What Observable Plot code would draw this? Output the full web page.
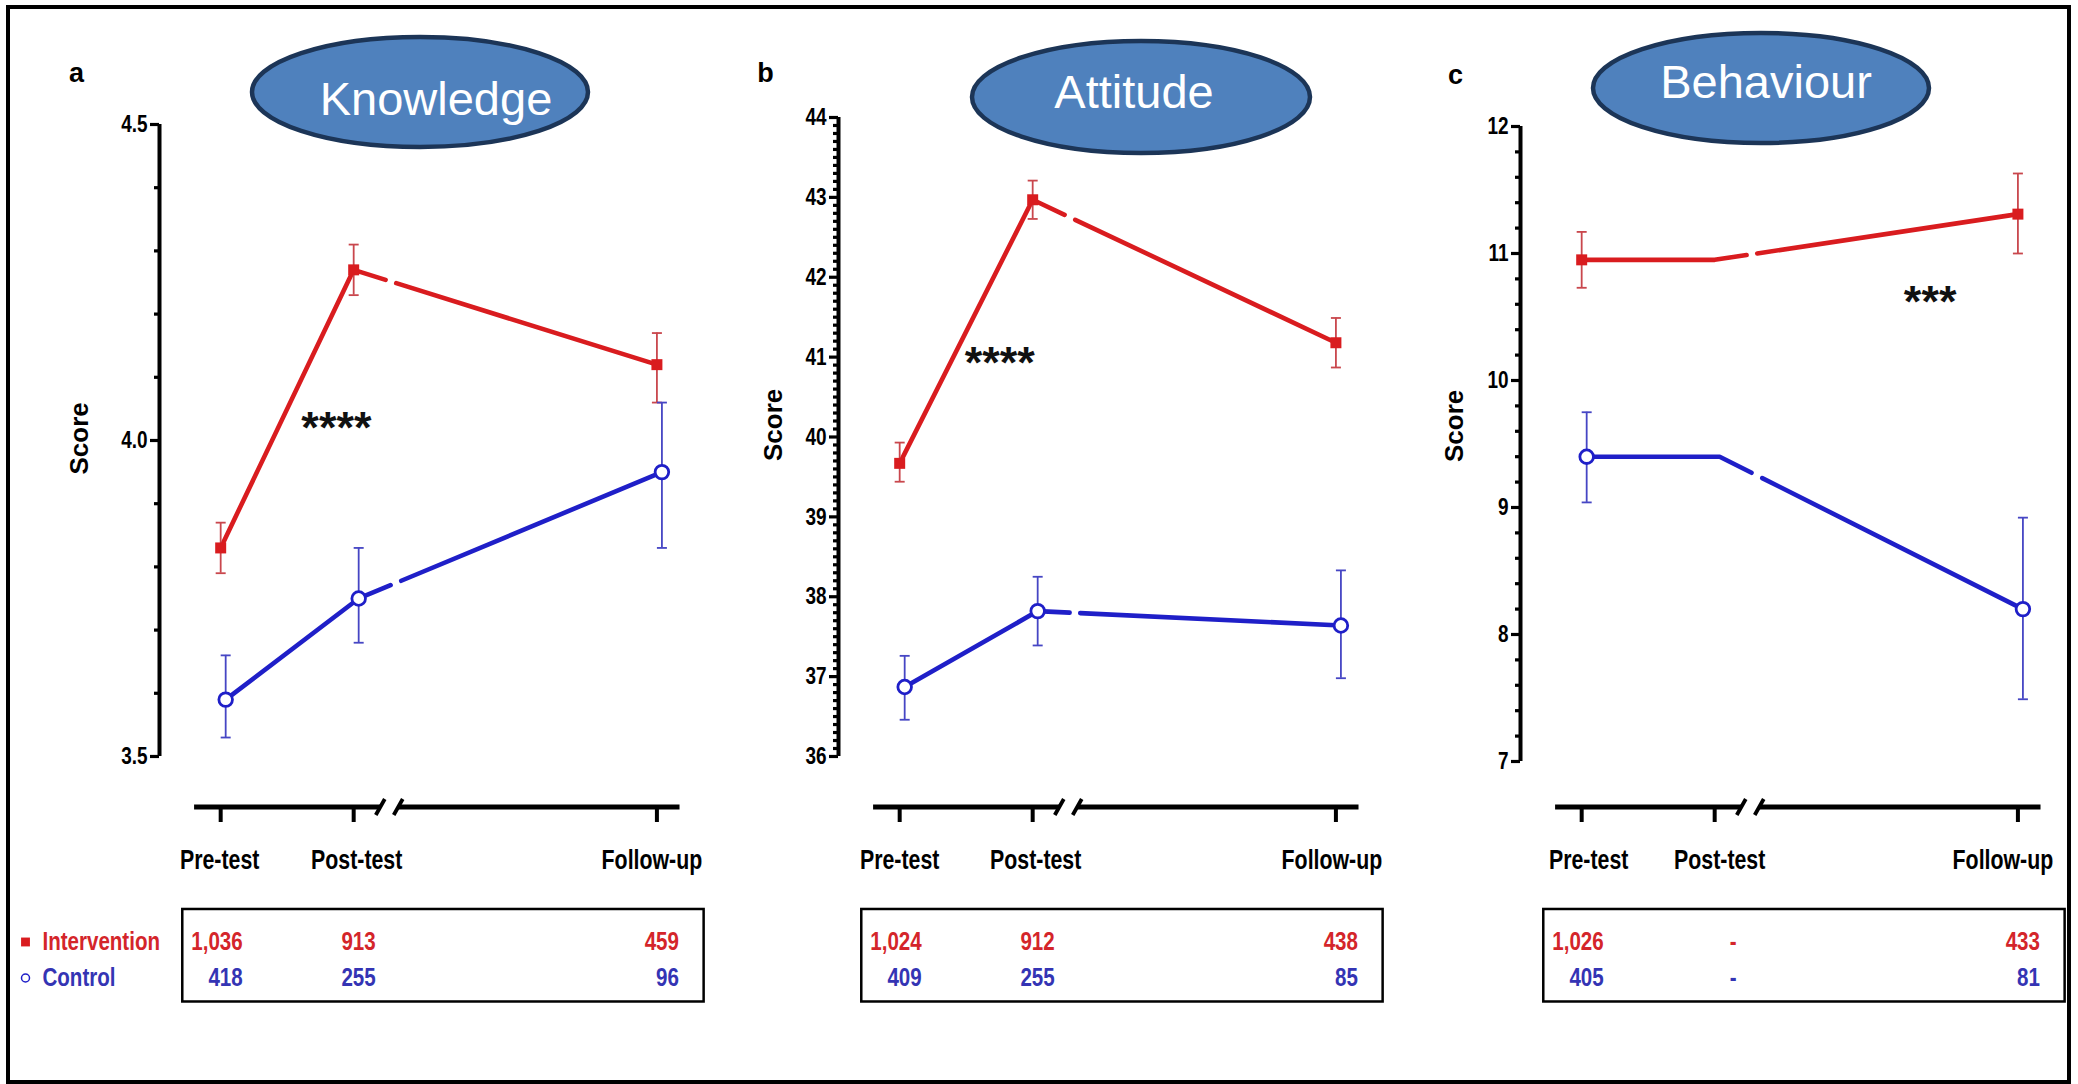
<!DOCTYPE html>
<html><head><meta charset="utf-8">
<script src="https://cdn.jsdelivr.net/npm/d3@7"></script>
<script src="https://cdn.jsdelivr.net/npm/@observablehq/plot@0.6"></script>
<style>
html,body{margin:0;padding:0;background:#fff;}
body{width:2078px;height:1084px;position:relative;overflow:hidden;}
#frame{position:absolute;left:6px;top:5px;width:2057px;height:1071px;border:4px solid #000;}
.panel{position:absolute;}
.panel svg{max-width:none !important;display:block;}
#titles{position:absolute;left:0;top:0;}
</style></head><body>
<div id="frame"></div>
<script>
// ---------- data ----------
const phases = ["Pre-test", "Post-test", "Follow-up"];
const groups = ["Intervention", "Control"];

const knowledgeIntMean = [3.83, 4.27, 4.12];
const knowledgeIntLow  = [3.79, 4.23, 4.06];
const knowledgeIntHigh = [3.87, 4.31, 4.17];
const knowledgeCtlMean = [3.59, 3.75, 3.95];
const knowledgeCtlLow  = [3.53, 3.68, 3.83];
const knowledgeCtlHigh = [3.66, 3.83, 4.06];
const knowledgeIntN = ["1,036", "913", "459"];
const knowledgeCtlN = ["418", "255", "96"];
const knowledgeTicks = [3.5, 4.0, 4.5];

const attitudeIntMean = [39.67, 42.97, 41.18];
const attitudeIntLow  = [39.44, 42.73, 40.87];
const attitudeIntHigh = [39.93, 43.21, 41.49];
const attitudeCtlMean = [36.87, 37.82, 37.64];
const attitudeCtlLow  = [36.46, 37.39, 36.98];
const attitudeCtlHigh = [37.26, 38.25, 38.33];
const attitudeIntN = ["1,024", "912", "438"];
const attitudeCtlN = ["409", "255", "85"];
const attitudeTicks = [36, 37, 38, 39, 40, 41, 42, 43, 44];

const behaviourIntMean = [10.95, 10.95, 11.31];
const behaviourIntLow  = [10.73, null, 11.00];
const behaviourIntHigh = [11.17, null, 11.63];
const behaviourCtlMean = [9.40, 9.40, 8.20];
const behaviourCtlLow  = [9.04, null, 7.49];
const behaviourCtlHigh = [9.75, null, 8.92];
const behaviourIntN = ["1,026", "-", "433"];
const behaviourCtlN = ["405", "-", "81"];
const behaviourTicks = [7, 8, 9, 10, 11, 12];

const panelTitles = ["Knowledge", "Attitude", "Behaviour"];
const panelLetters = ["a", "b", "c"];
const significance = ["****", "****", "***"];

// ---------- layout & style ----------
const NARROW = '"Liberation Sans", Arial, sans-serif';          // drawn condensed
const WIDE = '"Liberation Sans", "Arial", Helvetica, sans-serif';
const CONDENSE = 0.79;
const RED = "#d91c1f", BLUE = "#1f1fc8";
const RED_ERR = "#c9474d", BLUE_ERR = "#4646c4";
const RED_TXT = "#d4252a", BLUE_TXT = "#3434b4";
const PHASE_POS = [0, 1, 3.28];
const X_MIN = -0.46, X_MAX = 3.65, UNIT = 133;
const GAP_A = 1.24, GAP_B = 1.32;        // break in connecting lines
const BREAK_A = 1.20, BREAK_B = 1.335;   // axis break slashes
const AX_L = -0.20, AX_R = 3.45;          // axis strip extent
const BOX_L = -0.285, BOX_R = 3.635;      // n table box
const AXIS_LINE_Y = 806.5, LABEL_Y = 860, BOX_TOP = 909, BOX_BOTTOM = 1001.5;
const ROW_Y = {Intervention: 941.5, Control: 977.5};
const MT = 72, MB = 258, MR = 10;

const panels = [
  {domain: [3.5, 4.5], majors: knowledgeTicks, minorStep: 0.1, fmt: d3.format(".1f"),
   series: {Intervention: {mean: knowledgeIntMean, low: knowledgeIntLow, high: knowledgeIntHigh, n: knowledgeIntN},
            Control: {mean: knowledgeCtlMean, low: knowledgeCtlLow, high: knowledgeCtlHigh, n: knowledgeCtlN}},
   axisX: 159, top: 124, bottom: 756, mL: 152, legend: true, labelDx: [-1, 3, -5],
   star: [0.87, 4.038], letterOff: [-83, -51], scoreOff: [-80, 34],
   ell: {cx: 420, cy: 92, rx: 170, ry: 57, tx: 436, ty: 115}},
  {domain: [36, 44], majors: attitudeTicks, minorStep: 0.1, fmt: d3.format("d"),
   series: {Intervention: {mean: attitudeIntMean, low: attitudeIntLow, high: attitudeIntHigh, n: attitudeIntN},
            Control: {mean: attitudeCtlMean, low: attitudeCtlLow, high: attitudeCtlHigh, n: attitudeCtlN}},
   axisX: 838, top: 117, bottom: 756, mL: 100, legend: false, labelDx: [0, 3, -4],
   star: [0.752, 41.07], letterOff: [-73, -44], scoreOff: [-65, 24],
   ell: {cx: 1141, cy: 97, rx: 171, ry: 58, tx: 1134, ty: 108}},
  {domain: [7, 12], majors: behaviourTicks, minorStep: 0.2, fmt: d3.format("d"),
   series: {Intervention: {mean: behaviourIntMean, low: behaviourIntLow, high: behaviourIntHigh, n: behaviourIntN},
            Control: {mean: behaviourCtlMean, low: behaviourCtlLow, high: behaviourCtlHigh, n: behaviourCtlN}},
   axisX: 1520, top: 126, bottom: 761, mL: 100, legend: false, labelDx: [7, 5, -15],
   star: [2.62, 10.71], letterOff: [-65, -51], scoreOff: [-66, 18],
   ell: {cx: 1761, cy: 88, rx: 170, ry: 57, tx: 1766, ty: 98}}
];

// custom symbols
const capSym = {draw(ctx) { ctx.moveTo(-5, 0); ctx.lineTo(5, 0); }};
const slashSym = {draw(ctx) { ctx.moveTo(-4.5, 8); ctx.lineTo(4.5, -8); }};
const tickSym = {draw(ctx) { ctx.moveTo(0, 0); ctx.lineTo(0, 15); }};

function lineData(mean) {
  const [p0, p1, p2] = PHASE_POS;
  const at = t => mean[1] + (mean[2] - mean[1]) * (t - p1) / (p2 - p1);
  return [
    {seg: 0, x: p0, y: mean[0]}, {seg: 0, x: p1, y: mean[1]}, {seg: 0, x: GAP_A, y: at(GAP_A)},
    {seg: 1, x: GAP_B, y: at(GAP_B)}, {seg: 1, x: p2, y: mean[2]}
  ];
}

// draw the narrow-font texts horizontally condensed (as in the original figure)
function condense(svg) {
  svg.querySelectorAll("g").forEach(g => {
    if (g.getAttribute("font-family") !== NARROW) return;
    g.querySelectorAll("text").forEach(t => {
      if (t.hasAttribute("textLength")) return;
      const w = t.getComputedTextLength();
      if (w > 0) {
        t.setAttribute("textLength", (w * CONDENSE).toFixed(2));
        t.setAttribute("lengthAdjust", "spacingAndGlyphs");
      }
    });
  });
}

panels.forEach((p, pi) => {
  const [y0, y1] = p.domain;
  const plotH = p.bottom - p.top;
  const pxU = plotH / (y1 - y0);
  const below = absY => y0 - (absY - p.bottom) / pxU;
  const minors = d3.range(Math.round((y1 - y0) / p.minorStep) + 1)
    .map(i => +(y0 + i * p.minorStep).toFixed(2))
    .filter(v => !p.majors.some(m => Math.abs(m - v) < 1e-9));

  const marks = [];
  // y axis
  marks.push(Plot.ruleX([X_MIN], {x: d => d, y1: () => y0, y2: () => y1, stroke: "#000", strokeWidth: 4}));
  marks.push(Plot.axisY(minors, {tickSize: 5, strokeWidth: 3.2, tickFormat: () => "", label: null}));
  marks.push(Plot.axisY(p.majors, {tickSize: 9, tickPadding: 3, strokeWidth: 3.2, tickFormat: p.fmt,
    fontSize: 24, fontWeight: "bold", fontFamily: NARROW, label: null}));

  groups.forEach(g => {
    const s = p.series[g];
    const isInt = g === "Intervention";
    const col = isInt ? RED : BLUE, ecol = isInt ? RED_ERR : BLUE_ERR;
    const dx = isInt ? 0 : 5;
    const pts = phases.map((ph, i) => ({phase: ph, x: PHASE_POS[i], mean: s.mean[i], lo: s.low[i], hi: s.high[i], n: s.n[i]}));
    const measured = pts.filter(d => d.n !== "-");
    marks.push(Plot.line(lineData(s.mean), {x: "x", y: "y", z: "seg", stroke: col, strokeWidth: 4.6, dx, strokeLinejoin: "miter"}));
    marks.push(Plot.ruleX(measured, {x: "x", y1: "lo", y2: "hi", stroke: ecol, strokeWidth: 1.8, dx}));
    marks.push(Plot.dot(measured, {x: "x", y: "lo", symbol: capSym, stroke: ecol, fill: "none", strokeWidth: 1.8, dx}));
    marks.push(Plot.dot(measured, {x: "x", y: "hi", symbol: capSym, stroke: ecol, fill: "none", strokeWidth: 1.8, dx}));
    if (isInt) {
      marks.push(Plot.dot(measured, {x: "x", y: "mean", symbol: "square", r: 6.2, fill: RED, stroke: "none"}));
    } else {
      marks.push(Plot.dot(measured, {x: "x", y: "mean", symbol: "circle", r: 6.8, fill: "#fff", stroke: BLUE, strokeWidth: 2.8, dx}));
    }
    // n table row
    marks.push(Plot.text(pts, {x: "x", y: () => below(ROW_Y[g]), text: "n", fill: isInt ? RED_TXT : BLUE_TXT,
      textAnchor: "end", dx: 22, fontSize: 26, fontFamily: NARROW, fontWeight: "bold"}));
    if (p.legend) {
      marks.push(Plot.dot([g], {x: () => X_MIN, y: () => below(ROW_Y[g]), dx: -134,
        symbol: isInt ? "square" : "circle", r: isInt ? 5 : 4,
        fill: isInt ? RED : "#fff", stroke: isInt ? "none" : BLUE, strokeWidth: 1.5}));
      marks.push(Plot.text([g], {x: () => X_MIN, y: () => below(ROW_Y[g]), text: d => d, dx: -117,
        textAnchor: "start", fill: isInt ? RED_TXT : BLUE_TXT, fontSize: 26, fontFamily: NARROW, fontWeight: "bold"}));
    }
  });

  // significance stars
  marks.push(Plot.text([significance[pi]], {x: () => p.star[0], y: () => p.star[1], text: d => d, dy: 12,
    fontSize: 45, fontFamily: WIDE, fontWeight: "bold", fill: "#111"}));

  // broken x axis strip
  const axY = below(AXIS_LINE_Y);
  marks.push(Plot.link([[AX_L, BREAK_A], [BREAK_B, AX_R]], {x1: d => d[0], x2: d => d[1], y1: () => axY, y2: () => axY,
    stroke: "#000", strokeWidth: 4.8}));
  marks.push(Plot.dot([BREAK_A, BREAK_B], {x: d => d, y: () => axY, symbol: slashSym, stroke: "#000", fill: "none", strokeWidth: 3.8}));
  marks.push(Plot.dot(PHASE_POS, {x: d => d, y: () => axY, symbol: tickSym, stroke: "#000", fill: "none", strokeWidth: 4}));
  phases.forEach((ph, i) => {
    marks.push(Plot.text([ph], {x: () => PHASE_POS[i], y: () => below(LABEL_Y), text: d => d, dx: p.labelDx[i],
      fontSize: 27, fontFamily: NARROW, fontWeight: "bold", fill: "#000"}));
  });

  // n table box
  marks.push(Plot.rect([0], {x1: () => BOX_L, x2: () => BOX_R, y1: () => below(BOX_TOP), y2: () => below(BOX_BOTTOM),
    fill: "none", stroke: "#000", strokeWidth: 2.5}));

  // axis title and panel letter
  marks.push(Plot.text(["Score"], {frameAnchor: "left", rotate: -90, dx: p.scoreOff[0], dy: p.scoreOff[1],
    fontSize: 26, fontFamily: WIDE, fontWeight: "bold", fill: "#000"}));
  marks.push(Plot.text([panelLetters[pi]], {frameAnchor: "top-left", textAnchor: "middle", lineAnchor: "middle",
    dx: p.letterOff[0], dy: p.letterOff[1], fontSize: 27, fontFamily: WIDE, fontWeight: "bold", fill: "#000"}));

  const width = p.mL + (X_MAX - X_MIN) * UNIT + MR;
  const chart = Plot.plot({
    width, height: MT + plotH + MB,
    marginLeft: p.mL, marginRight: MR, marginTop: MT, marginBottom: MB,
    x: {domain: [X_MIN, X_MAX], axis: null},
    y: {domain: p.domain},
    style: {fontFamily: NARROW, fontWeight: "bold", overflow: "visible", background: "none", color: "#000", maxWidth: "none"},
    marks
  });
  const wrap = document.createElement("div");
  wrap.className = "panel";
  wrap.style.left = (p.axisX - p.mL) + "px";
  wrap.style.top = (p.top - MT) + "px";
  wrap.style.width = width + "px";
  wrap.appendChild(chart);
  document.body.appendChild(wrap);
  condense(chart);
});

// title ellipses
const tsvg = d3.select(document.body).append("svg").attr("id", "titles")
  .attr("width", 2078).attr("height", 200);
panels.forEach((p, i) => {
  const e = p.ell;
  tsvg.append("ellipse").attr("cx", e.cx).attr("cy", e.cy).attr("rx", e.rx - 2).attr("ry", e.ry - 2)
    .attr("fill", "#4f81bd").attr("stroke", "#1c3557").attr("stroke-width", 4.5);
  tsvg.append("text").attr("x", e.tx).attr("y", e.ty).attr("text-anchor", "middle")
    .attr("fill", "#fff").attr("font-family", WIDE).attr("font-size", 47).text(panelTitles[i]);
});
</script>
</body></html>
